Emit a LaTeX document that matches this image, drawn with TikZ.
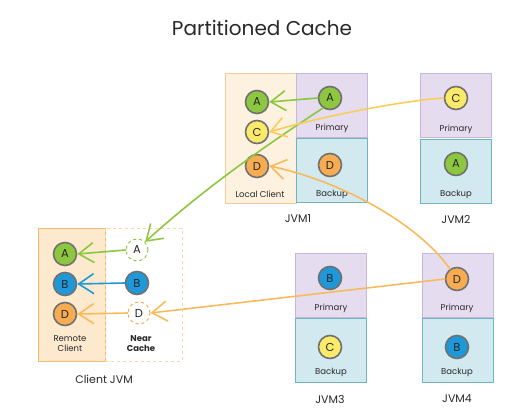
\documentclass[tikz,border=0pt]{standalone}
\usepackage{fontspec}
\setmainfont{Poppins}
\usetikzlibrary{arrows.meta}
\definecolor{txt}{RGB}{40,40,40}
\definecolor{grnA}{RGB}{141,198,63}
\definecolor{ylwC}{RGB}{250,234,105}
\definecolor{orgD}{RGB}{248,172,82}
\definecolor{bluB}{RGB}{30,152,216}
\definecolor{rimgray}{RGB}{112,112,112}
\definecolor{primfill}{RGB}{229,221,239}
\definecolor{primline}{RGB}{196,184,220}
\definecolor{backfill}{RGB}{209,233,239}
\definecolor{backline}{RGB}{112,180,192}
\definecolor{lcfill}{RGB}{253,241,223}
\definecolor{lcline}{RGB}{246,200,150}
\definecolor{rcfill}{RGB}{252,233,206}
\definecolor{rcline}{RGB}{245,182,112}
\definecolor{ncline}{RGB}{247,214,170}
\definecolor{arrO}{RGB}{250,186,92}
\definecolor{arrC}{RGB}{250,204,92}
\begin{document}
\begin{tikzpicture}[x=1pt, y=-1pt,
  every node/.style={text=txt},
  part/.style={circle, draw=rimgray, line width=1.6pt, minimum size=23pt,
    inner sep=0pt, font=\fontsize{11.5}{12}\selectfont},
  nearpart/.style={circle, dashed, line width=1pt, minimum size=22pt,
    inner sep=0pt, fill=white, font=\fontsize{11.5}{12}\selectfont},
  flow/.style={line width=1.6pt, line cap=round,
    -{Straight Barb[length=15pt,width=20pt,line width=1.6pt]}},
  primbox/.style={draw=primline, fill=primfill, line width=0.6pt,
    minimum width=71pt, minimum height=64pt},
  backbox/.style={draw=backline, fill=backfill, line width=0.6pt,
    minimum width=71pt, minimum height=64pt},
  lbl/.style={font=\fontsize{8.5}{10}\selectfont, align=center},
  jvm/.style={font=\fontsize{11}{12}\selectfont}]
  \useasboundingbox (0,0) rectangle (506,415);

  \node[font=\fontsize{20}{24}\selectfont] (title) at (262,28) {Partitioned Cache};

  % JVM1
  \node[draw=lcline, fill=lcfill, line width=0.6pt, minimum width=71pt,
    minimum height=130pt] (lc1) at (260.5,138) {};
  \node[primbox] (p1) at (331.5,105.5) {};
  \node[backbox] (b1) at (331.5,170.5) {};
  \node[part, fill=grnA] (c1A) at (257,102) {A};
  \node[part, fill=ylwC] (c1C) at (257,132) {C};
  \node[part, fill=orgD] (c1D) at (257,166) {D};
  \node[lbl] (lc1lbl) at (260,194) {Local Client};
  \node[part, fill=grnA] (p1A) at (330,98) {A};
  \node[lbl] (p1lbl) at (332,128) {Primary};
  \node[part, fill=orgD] (b1D) at (330,165) {D};
  \node[lbl] (b1lbl) at (332,194) {Backup};
  \node[jvm] (jvm1) at (298,219) {JVM1};

  % JVM2
  \node[primbox] (p2) at (456,105.5) {};
  \node[backbox] (b2) at (456,171.5) {};
  \node[part, fill=ylwC] (p2C) at (456,98) {C};
  \node[lbl] (p2lbl) at (456,129) {Primary};
  \node[part, fill=grnA] (b2A) at (456,164) {A};
  \node[lbl] (b2lbl) at (456,194) {Backup};
  \node[jvm] (jvm2) at (456,219) {JVM2};

  % JVM3
  \node[primbox] (p3) at (331,285) {};
  \node[backbox] (b3) at (331,350.5) {};
  \node[part, fill=bluB] (p3B) at (330,278) {B};
  \node[lbl] (p3lbl) at (331,308) {Primary};
  \node[part, fill=ylwC] (b3C) at (330,347) {C};
  \node[lbl] (b3lbl) at (331,372) {Backup};
  \node[jvm] (jvm3) at (330,399) {JVM3};

  % JVM4
  \node[primbox] (p4) at (457.5,285) {};
  \node[backbox] (b4) at (457.5,350.5) {};
  \node[part, fill=orgD] (p4D) at (457,279) {D};
  \node[lbl] (p4lbl) at (457,308) {Primary};
  \node[part, fill=bluB] (b4B) at (457,347) {B};
  \node[lbl] (b4lbl) at (457,372) {Backup};
  \node[jvm] (jvm4) at (457,399) {JVM4};

  % Client JVM
  \node[draw=rcline, fill=rcfill, line width=0.8pt, minimum width=67pt,
    minimum height=133pt] (rc) at (71.5,294.5) {};
  \node[draw=ncline, dashed, line width=0.8pt, minimum width=77pt,
    minimum height=133pt] (nc) at (143.5,294.5) {};
  \node[part, fill=grnA] (rcA) at (65,254) {A};
  \node[part, fill=bluB] (rcB) at (65,284) {B};
  \node[part, fill=orgD] (rcD) at (65,314) {D};
  \node[lbl] (rclbl) at (70,344) {Remote\\Client};
  \node[nearpart, draw=grnA] (ncA) at (137,250) {A};
  \node[part, fill=bluB] (ncB) at (137,283) {B};
  \node[nearpart, draw=orgD] (ncD) at (139,313) {D};
  \node[lbl, font=\fontsize{8.5}{10}\selectfont\bfseries] (nclbl) at (141,344) {Near\\Cache};
  \node[jvm] (cjvm) at (104,379) {Client JVM};

  % flows
  \draw[flow, grnA] (p1A.west) -- (c1A.east);
  \draw[flow, grnA] (p1A.235) .. controls (262,148) and (205,188) .. (ncA.north east);
  \draw[flow, arrC] (p2C.west) .. controls (410,100) and (330,114) .. (c1C.east);
  \draw[flow, arrO] (p4D.125) .. controls (420,226) and (345,182) .. (c1D.east);
  \draw[flow, arrO] (p4D.west) -- (ncD.east);
  \draw[flow, grnA] (ncA.west) -- (rcA.east);
  \draw[flow, bluB] (ncB.west) -- (rcB.east);
  \draw[flow, arrO] (ncD.west) -- (rcD.east);
\end{tikzpicture}
\end{document}
